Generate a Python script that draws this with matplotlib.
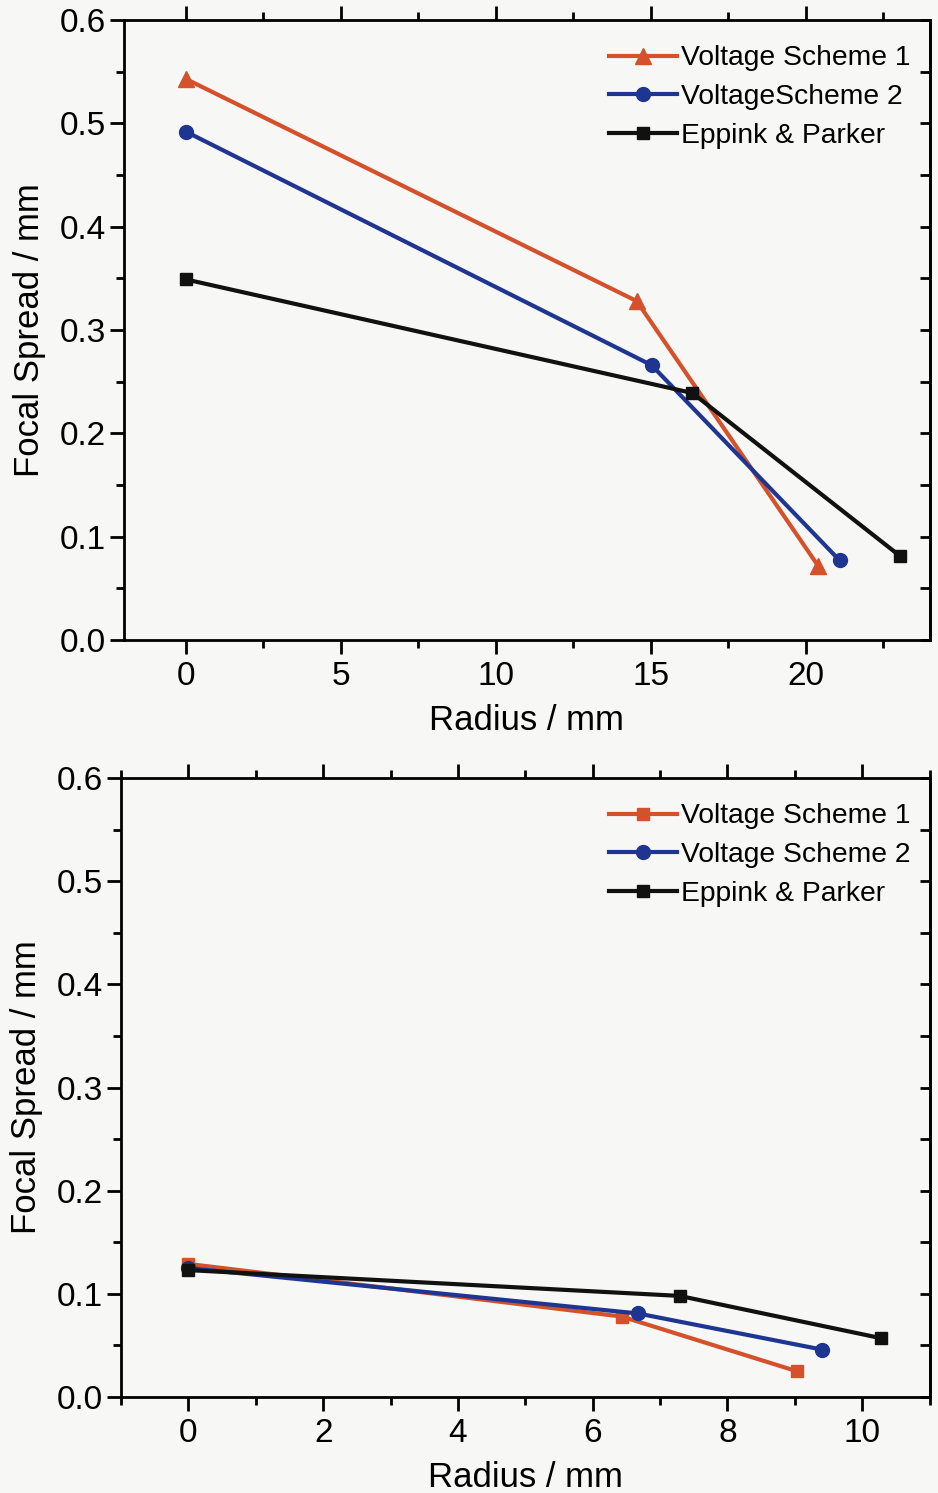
import matplotlib
matplotlib.use("Agg")
import matplotlib.pyplot as plt
from matplotlib.ticker import MultipleLocator

# ---- data (top panel) ----
top_vs1_x = [0, 14.55, 20.4]
top_vs1_y = [0.543, 0.328, 0.072]
top_vs2_x = [0, 15.03, 21.1]
top_vs2_y = [0.492, 0.266, 0.077]
top_ep_x = [0, 16.35, 23.06]
top_ep_y = [0.349, 0.239, 0.081]
top_labels = ["Voltage Scheme 1", "VoltageScheme 2", "Eppink & Parker"]

# ---- data (bottom panel) ----
bot_vs1_x = [0, 6.43, 9.03]
bot_vs1_y = [0.129, 0.078, 0.025]
bot_vs2_x = [0, 6.67, 9.4]
bot_vs2_y = [0.125, 0.081, 0.046]
bot_ep_x = [0, 7.29, 10.28]
bot_ep_y = [0.123, 0.098, 0.057]
bot_labels = ["Voltage Scheme 1", "Voltage Scheme 2", "Eppink & Parker"]

RED = "#D4512B"
BLUE = "#1E3591"
BLACK = "#111111"

plt.rcParams['font.family'] = ['Liberation Sans', 'DejaVu Sans']

fig = plt.figure(figsize=(9.38, 14.93), dpi=100)
fig.patch.set_facecolor("#f7f7f5")

ax1 = fig.add_axes([0.132, 0.5713, 0.859, 0.4153])
ax2 = fig.add_axes([0.129, 0.0643, 0.862, 0.4146])

lw = 3.0
ms = 10

def style(ax, xlim, xmaj, xmin):
    ax.set_facecolor("#f7f7f5")
    ax.set_xlim(*xlim)
    ax.set_ylim(0, 0.6)
    ax.xaxis.set_major_locator(MultipleLocator(xmaj))
    ax.xaxis.set_minor_locator(MultipleLocator(xmin))
    ax.yaxis.set_major_locator(MultipleLocator(0.1))
    ax.yaxis.set_minor_locator(MultipleLocator(0.05))
    ax.yaxis.set_major_formatter(matplotlib.ticker.FormatStrFormatter('%.1f'))
    for s in ax.spines.values():
        s.set_linewidth(2.0)
    ax.tick_params(axis='x', which='both', direction='out', top=True, bottom=True,
                   labelsize=24, width=2.0, pad=5)
    ax.tick_params(axis='x', which='major', length=10)
    ax.tick_params(axis='x', which='minor', length=6)
    ax.tick_params(axis='y', which='both', direction='out', left=True, right=False,
                   labelsize=24, width=2.0, pad=3)
    ax.tick_params(axis='y', which='major', length=10)
    ax.tick_params(axis='y', which='minor', length=6)
    sec = ax.secondary_yaxis('right')
    sec.yaxis.set_major_locator(MultipleLocator(0.05))
    sec.tick_params(direction='in', length=7, width=2.0, labelright=False)
    sec.spines['right'].set_linewidth(2.0)
    ax.set_ylabel("Focal Spread / mm", fontsize=25, labelpad=10)
    ax.set_xlabel("Radius / mm", fontsize=25, labelpad=9)

legend_kw = dict(loc='upper right', frameon=False, fontsize=20.3, handlelength=2.4,
                 handletextpad=0.15, labelspacing=0.45, borderaxespad=0.5,
                 bbox_to_anchor=(1.008, 1.0))

# top panel
ax1.plot(top_vs1_x, top_vs1_y, color=RED, lw=lw, marker='^', ms=ms + 1, label=top_labels[0])
ax1.plot(top_vs2_x, top_vs2_y, color=BLUE, lw=lw, marker='o', ms=ms, label=top_labels[1])
ax1.plot(top_ep_x, top_ep_y, color=BLACK, lw=lw, marker='s', ms=ms - 1.5, label=top_labels[2])
style(ax1, (-2, 24), 5, 2.5)
ax1.legend(**legend_kw)

# bottom panel
ax2.plot(bot_vs1_x, bot_vs1_y, color=RED, lw=lw, marker='s', ms=ms - 1.5, label=bot_labels[0])
ax2.plot(bot_vs2_x, bot_vs2_y, color=BLUE, lw=lw, marker='o', ms=ms, label=bot_labels[1])
ax2.plot(bot_ep_x, bot_ep_y, color=BLACK, lw=lw, marker='s', ms=ms - 1.5, label=bot_labels[2])
style(ax2, (-1, 11), 2, 1)
ax2.legend(**legend_kw)

fig.savefig("out.png", dpi=100, facecolor=fig.get_facecolor())
